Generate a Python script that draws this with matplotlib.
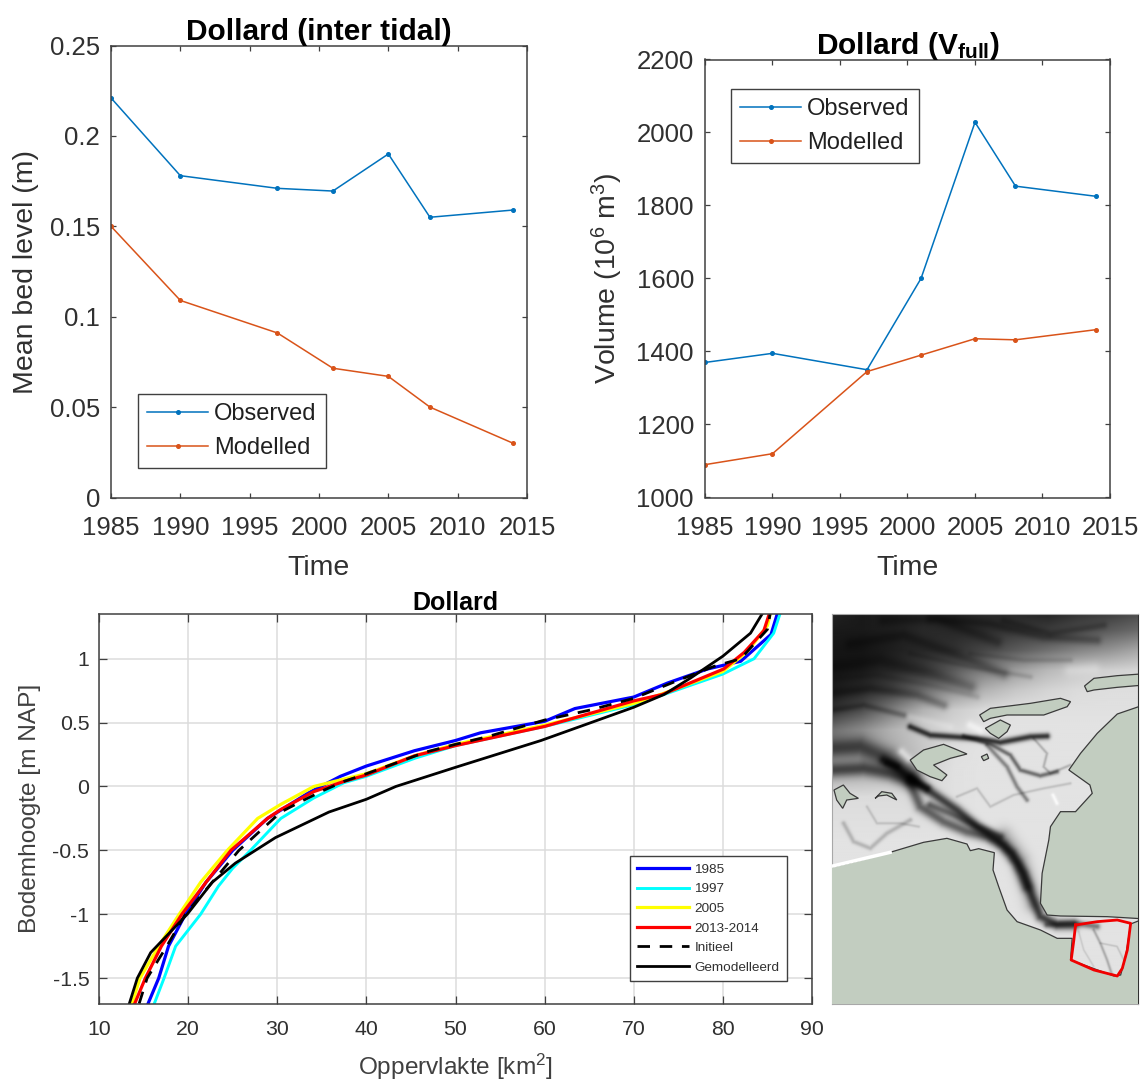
import numpy as np
import matplotlib
matplotlib.use('Agg')
import matplotlib.pyplot as plt

plt.rcParams['font.family'] = ['Liberation Sans', 'DejaVu Sans']
plt.rcParams['mathtext.fontset'] = 'custom'
plt.rcParams['mathtext.rm'] = 'Liberation Sans'
plt.rcParams['mathtext.bf'] = 'Liberation Sans:bold'
plt.rcParams['mathtext.default'] = 'regular'

# top panels
years = [1985, 1990, 1997, 2001, 2005, 2008, 2014]
bed_observed = [0.221, 0.178, 0.171, 0.1695, 0.19, 0.155, 0.159]
bed_modelled = [0.15, 0.109, 0.091, 0.0715, 0.067, 0.05, 0.03]
vol_observed = [1370, 1395, 1350, 1600, 2028, 1853, 1825]
vol_modelled = [1090, 1120, 1345, 1390, 1435, 1432, 1460]
year_ticks = [1985, 1990, 1995, 2000, 2005, 2010, 2015]

# hypsometric curves: (area km2, level m)
area_1985 = [15.5, 16.7, 17.8, 19.7, 22, 25, 28.9, 33.5, 37.1, 40, 45.4, 50, 52.8, 60, 63.4, 70, 73.8, 78.3, 82, 85.4, 86.1]
level_1985 = [-1.7, -1.5, -1.25, -1, -0.75, -0.5, -0.25, -0.05, 0.08, 0.16, 0.28, 0.36, 0.42, 0.51, 0.61, 0.7, 0.81, 0.92, 0.98, 1.19, 1.35]
area_1997 = [16.2, 17.3, 18.6, 21.4, 23.4, 25, 27, 30.4, 34.1, 37.5, 40, 45.4, 50, 60, 70, 73.4, 80, 83.5, 85.7, 86.4]
level_1997 = [-1.7, -1.5, -1.25, -1, -0.78, -0.64, -0.5, -0.25, -0.09, 0.03, 0.08, 0.22, 0.32, 0.47, 0.64, 0.72, 0.88, 1, 1.2, 1.35]
area_2005 = [13.7, 14.6, 16.7, 19, 21.4, 24.4, 27.8, 30.4, 34.1, 37, 40, 45.4, 50, 60, 70, 73.4, 80, 82.8, 85, 85.3]
level_2005 = [-1.7, -1.5, -1.25, -1, -0.75, -0.5, -0.25, -0.14, 0, 0.05, 0.1, 0.24, 0.33, 0.48, 0.65, 0.73, 0.9, 1.06, 1.26, 1.35]
area_2013 = [14, 15.2, 17, 19.3, 22, 24.8, 28.9, 30.4, 34.1, 37.5, 40, 45.4, 50, 60, 70, 73.2, 80.1, 82.4, 84.6, 85.2]
level_2013 = [-1.7, -1.5, -1.25, -1, -0.75, -0.5, -0.25, -0.18, -0.04, 0.04, 0.09, 0.24, 0.32, 0.47, 0.67, 0.72, 0.92, 1.05, 1.22, 1.35]
area_init = [14.5, 15.4, 17.6, 19.7, 22.7, 25.7, 30.4, 32.6, 35.2, 37.5, 40, 46.7, 50, 53.6, 60, 65.2, 70, 74.6, 79, 82, 85, 85.3]
level_init = [-1.7, -1.5, -1.25, -1, -0.75, -0.5, -0.2, -0.12, -0.03, 0.04, 0.1, 0.27, 0.33, 0.39, 0.52, 0.6, 0.69, 0.82, 0.94, 1, 1.23, 1.35]
area_model = [13.4, 14.3, 15.8, 19.9, 22.7, 25.3, 29.8, 35.8, 40, 43.3, 50, 59.6, 65.2, 70, 73.4, 76.4, 80, 83.1, 84.4]
level_model = [-1.7, -1.5, -1.3, -1, -0.75, -0.6, -0.4, -0.2, -0.1, 0, 0.15, 0.36, 0.5, 0.62, 0.72, 0.85, 1.02, 1.2, 1.35]

# map: shading read on a coarse grid, outlines in map units
depth_x = [0, 93, 186, 279, 372, 465, 558, 651, 744, 837, 930]
depth_y = [10, 60, 120, 180, 240, 300, 360, 420, 480, 560, 700, 1190]
depth_grid = [
    [.14, .10, .12, .16, .12, .16, .16, .14, .20, .24, .30],
    [.10, .10, .12, .16, .16, .18, .22, .24, .30, .36, .42],
    [.08, .08, .12, .16, .20, .28, .36, .44, .52, .58, .66],
    [.08, .10, .16, .24, .36, .50, .62, .72, .78, .82, .84],
    [.10, .16, .26, .42, .58, .70, .78, .83, .86, .87, .87],
    [.18, .30, .50, .70, .80, .86, .88, .88, .88, .88, .88],
    [.44, .56, .70, .80, .85, .88, .89, .89, .89, .89, .89],
    [.60, .62, .68, .78, .87, .89, .89, .89, .89, .89, .89],
    [.66, .68, .74, .82, .88, .89, .89, .89, .89, .89, .89],
    [.86, .86, .86, .86, .88, .89, .89, .89, .89, .89, .89],
    [.89, .89, .89, .89, .89, .89, .89, .89, .89, .89, .89],
    [.89, .89, .89, .89, .89, .89, .89, .89, .89, .89, .89],
]
mainland = [(0, 772), (60, 758), (180, 727), (280, 697), (350, 685), (410, 702), (420, 722), (445, 716), (492, 728), (488, 780), (505, 830),
            (530, 900), (560, 935), (630, 960), (680, 985), (725, 985), (720, 1050), (850, 1098), (870, 1095),
            (885, 1040), (900, 942), (930, 930), (930, 1190), (0, 1190)]
east_land = [(930, 288), (860, 312), (800, 370), (750, 430), (715, 480), (778, 525), (785, 550), (735, 605), (690, 605),
             (660, 650), (655, 690), (635, 790), (630, 880), (650, 915), (690, 918), (830, 920), (930, 926)]
island_1 = [(762, 228), (790, 205), (860, 197), (930, 192), (930, 226), (860, 232), (790, 240), (770, 245)]
island_2 = [(448, 315), (480, 295), (600, 280), (690, 265), (720, 275), (710, 290), (640, 315), (530, 315), (480, 325), (460, 335)]
island_3 = [(465, 355), (510, 330), (540, 345), (530, 365), (505, 385), (480, 370)]
island_4 = [(240, 450), (280, 420), (340, 403), (370, 415), (410, 432), (360, 445), (310, 465), (350, 495), (335, 512), (300, 500), (260, 480)]
island_5 = [(453, 440), (470, 432), (475, 445), (460, 452)]
island_6 = [(12, 540), (40, 525), (60, 550), (85, 565), (50, 570), (38, 595), (20, 570)]
island_7 = [(135, 565), (155, 545), (185, 550), (200, 570), (170, 555), (145, 558)]
red_box = [(735, 945), (800, 935), (860, 930), (900, 940), (890, 1020), (875, 1075), (860, 1098), (790, 1080), (722, 1050), (730, 990), (735, 945)]
beach_white = [(8, 768), (180, 727)]
# channels and streaks: x, y, softness, darkness (negative brightens)
channels = [
    ([160, 190, 245, 300, 380, 440, 500, 545, 580, 605, 630, 680, 730], [450, 465, 510, 545, 600, 650, 690, 730, 790, 860, 920, 945, 945], 11, 0.7),
    ([240, 270, 340, 410, 470, 520, 560, 590], [520, 590, 635, 665, 680, 705, 760, 830], 12, 0.55),
    ([300, 370, 440, 510], [585, 615, 650, 680], 9, 0.5),
    ([520, 570, 610], [680, 750, 880], 20, 0.25),
    ([0, 100, 180, 250], [480, 475, 490, 515], 16, 0.6),
    ([0, 90, 170, 240], [415, 410, 445, 495], 22, 0.6),
    ([170, 200], [458, 470], 8, 0.6),
    ([240, 290], [505, 535], 9, 0.75),
    ([240, 300, 370, 440, 510, 600, 650], [350, 375, 380, 385, 397, 380, 378], 7, 0.75),
    ([400, 480, 540, 570, 630, 680], [378, 402, 435, 480, 497, 485], 5, 0.5),
    ([470, 530, 560, 590], [405, 470, 530, 570], 5, 0.4),
    ([610, 650, 640, 660, 720], [385, 430, 470, 490, 465], 3, 0.22),
    ([380, 440, 480, 550, 640, 720], [560, 535, 590, 555, 535, 520], 3, 0.15),
    ([40, 70, 120, 170, 240], [640, 695, 715, 670, 630], 5, 0.2),
    ([110, 140, 210, 265], [590, 640, 640, 650], 3, 0.14),
    ([790, 810, 830, 845], [960, 1000, 1050, 1095], 3, 0.25),
    ([745, 760, 790], [965, 1020, 1070], 2, 0.12),
    ([810, 860, 880], [1000, 1010, 1050], 2, 0.15),
    ([650, 730, 800], [945, 940, 950], 7, 0.45),
    ([0, 150, 300, 420], [170, 150, 190, 230], 14, 0.3),
    ([60, 220, 370, 520], [100, 75, 130, 190], 12, 0.3),
    ([0, 120, 260, 340], [250, 235, 255, 285], 10, 0.3),
    ([300, 480, 640, 800], [25, 40, 80, 90], 10, 0.3),
    ([0, 100, 220], [300, 285, 315], 7, 0.3),
    ([160, 320, 500], [30, 25, 95], 12, 0.3),
    ([520, 660, 820], [30, 70, 45], 8, 0.25),
    ([0, 140, 300, 440], [205, 195, 225, 260], 7, 0.12),
    ([240, 420, 600], [130, 170, 200], 6, 0.14),
    ([420, 580, 720], [130, 150, 150], 6, 0.14),
    ([215, 235], [425, 445], 9, -0.55),
    ([420, 450], [345, 360], 9, -0.55),
    ([668, 680], [555, 580], 4, -0.8),
    ([720, 790], [180, 175], 14, -0.25),
    ([240, 360], [320, 350], 8, -0.2),
]
map_x_limits = (6, 922)
map_y_limits = (1182, 12)

box_color = '#404040'
text_color = '#303030'
obs_color = '#0072BD'
mod_color = '#D95319'
W, H = 1146, 1080


def px_axes(fig, left, right, top, bottom):
    return fig.add_axes([left / W, 1 - bottom / H, (right - left) / W, (bottom - top) / H])


def style_axes(ax, size, tick_len, xpad, ypad):
    ax.tick_params(direction='in', top=True, right=True, labelsize=size, labelcolor=text_color,
                   length=tick_len, width=0.9, color=box_color)
    ax.tick_params(axis='x', pad=xpad)
    ax.tick_params(axis='y', pad=ypad)
    for s in ax.spines.values():
        s.set_color(box_color)
        s.set_linewidth(1.1)


def line_panel(ax, obs, mod, title, ylabel, legend_px):
    ax.plot(years, obs, color=obs_color, lw=1.1, marker='o', ms=2.6, label='Observed')
    ax.plot(years, mod, color=mod_color, lw=1.1, marker='o', ms=2.6, label='Modelled')
    ax.set_xlim(1985, 2015)
    ax.set_xticks(year_ticks)
    style_axes(ax, 18.5, 3.6, 13, 8)
    ax.set_title(title, fontsize=21.5, fontweight='bold', pad=4, color='black')
    ax.set_xlabel('Time', fontsize=20.5, color=text_color, labelpad=11)
    ax.set_ylabel(ylabel, fontsize=20.5, color=text_color, labelpad=8)
    ax.legend(loc='upper left', bbox_to_anchor=(legend_px[0] / W, 1 - legend_px[1] / H), bbox_transform=fig.transFigure,
              fontsize=17, fancybox=False, framealpha=1, edgecolor=box_color, borderaxespad=0, borderpad=0.38,
              handlelength=2.6, handletextpad=0.25, labelspacing=0.5, labelcolor='#202020')


def shade_map():
    # bilinear read of the coarse grid, then soft channels painted over it
    xs = np.arange(0, 931, 2.0)
    ys = np.arange(0, 1191, 2.0)
    grid = np.array(depth_grid)
    rows = np.array([np.interp(xs, depth_x, r) for r in grid])
    img = np.array([np.interp(ys, depth_y, rows[:, j]) for j in range(len(xs))]).T
    gx, gy = np.meshgrid(xs, ys)
    for cx, cy, soft, dark in channels:
        dist2 = np.full(gx.shape, np.inf)
        for x0, y0, x1, y1 in zip(cx[:-1], cy[:-1], cx[1:], cy[1:]):
            dx, dy = x1 - x0, y1 - y0
            t = np.clip(((gx - x0) * dx + (gy - y0) * dy) / (dx * dx + dy * dy), 0, 1)
            dist2 = np.minimum(dist2, (gx - x0 - t * dx) ** 2 + (gy - y0 - t * dy) ** 2)
        g = np.exp(-dist2 / (2 * soft * soft))
        if dark > 0:
            img = img * (1 - dark * g)
        else:
            img = img + (1 - img) * (-dark) * g
    return img


fig = plt.figure(figsize=(W / 100, H / 100), dpi=100)

ax1 = px_axes(fig, 111, 527, 45.5, 497.5)
line_panel(ax1, bed_observed, bed_modelled, 'Dollard (inter tidal)', 'Mean bed level (m)', (138, 394))
ax1.set_ylim(0, 0.25)
ax1.set_yticks([0, 0.05, 0.1, 0.15, 0.2, 0.25])
ax1.set_yticklabels(['0', '0.05', '0.1', '0.15', '0.2', '0.25'])

ax2 = px_axes(fig, 705, 1110, 59.5, 497.5)
line_panel(ax2, vol_observed, vol_modelled, r'Dollard (V$_{\mathbf{full}}$)', r'Volume (10$^6$ m$^3$)', (731, 89))
ax2.set_ylim(1000, 2200)
ax2.set_yticks(range(1000, 2201, 200))

ax3 = px_axes(fig, 99, 812, 614, 1003.7)
ax3.plot(area_1985, level_1985, color='#0000ff', lw=2.3, label='1985')
ax3.plot(area_1997, level_1997, color='#00ffff', lw=2.1, label='1997')
ax3.plot(area_2005, level_2005, color='#ffff00', lw=2.3, label='2005')
ax3.plot(area_2013, level_2013, color='#ff0000', lw=2.3, label='2013-2014')
ax3.plot(area_init, level_init, color='black', lw=2.0, ls=(0, (4.5, 3.5)), label='Initieel')
ax3.plot(area_model, level_model, color='black', lw=2.0, label='Gemodelleerd')
ax3.set_xlim(10, 90)
ax3.set_ylim(-1.7, 1.35)
ax3.set_xticks(range(10, 91, 10))
ax3.set_yticks([-1.5, -1, -0.5, 0, 0.5, 1])
ax3.set_yticklabels(['-1.5', '-1', '-0.5', '0', '0.5', '1'])
ax3.grid(True, color='#dcdcdc', lw=1.1)
ax3.set_axisbelow(True)
style_axes(ax3, 15.3, 5.8, 12, 7)
ax3.set_title('Dollard', fontsize=18, fontweight='bold', pad=3, color='black')
ax3.set_xlabel('Oppervlakte [km$^2$]', fontsize=17.6, color=box_color, labelpad=9)
ax3.set_ylabel('Bodemhoogte [m NAP]', fontsize=17.6, color=box_color, labelpad=8)
ax3.legend(loc='upper left', bbox_to_anchor=(630 / W, 1 - 856 / H), bbox_transform=fig.transFigure,
           fontsize=9.7, fancybox=False, framealpha=1, edgecolor=box_color, borderaxespad=0,
           handlelength=3.8, handletextpad=0.42, labelspacing=0.53, borderpad=0.55, labelcolor='#303030')

# map panel
ax4 = px_axes(fig, 832, 1138, 614, 1004)
ax4.imshow(shade_map(), cmap='gray', vmin=0, vmax=1, interpolation='bilinear', aspect='auto',
           extent=(0, 930, 1190, 0), zorder=1)
for shape in [mainland, east_land, island_1, island_2, island_3, island_4, island_5, island_6, island_7]:
    ax4.fill(*zip(*shape), facecolor='#c2cdc0', edgecolor='#3a3a3a', lw=0.9, zorder=4)
ax4.plot(*zip(*beach_white), color='white', lw=2.5, zorder=5)
ax4.plot(*zip(*red_box), color='#f00000', lw=2.0, zorder=6)
ax4.set_xlim(*map_x_limits)
ax4.set_ylim(*map_y_limits)
ax4.set_xticks([])
ax4.set_yticks([])
for name, s in ax4.spines.items():
    s.set_color('#a8a8a8' if name != 'right' else '#303030')
    s.set_linewidth(0.8)

fig.savefig('out.png', dpi=100, facecolor='white')
